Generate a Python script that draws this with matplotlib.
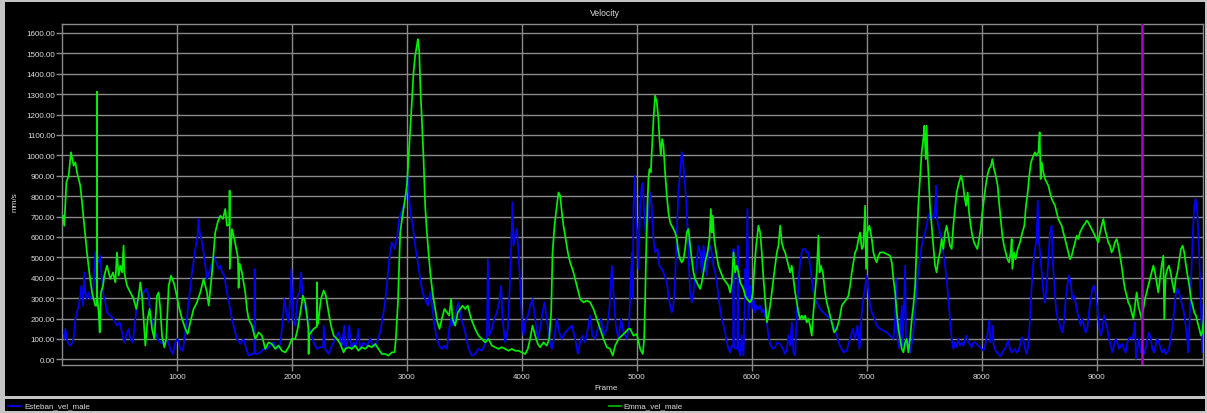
import matplotlib
matplotlib.use('Agg')
import matplotlib.pyplot as plt
from matplotlib.patches import Rectangle
from matplotlib.lines import Line2D
from matplotlib.ticker import FormatStrFormatter

# ---------------- data (frame, mm/s) ----------------
esteban_pts = [
    (9,116),(20,100),(29,149),(43,92),(58,75),(78,67),(96,92),(107,132),(116,198),(130,230),
    (145,263),(159,312),(168,361),(183,263),(194,426),(203,328),(217,296),(232,328),(246,296),(261,312),
    (275,361),(290,524),(304,491),(319,475),(333,508),(348,377),(362,312),(377,279),(391,230),(420,214),
    (449,198),(478,165),(502,181),(522,132),(542,83),(565,132),(580,149),(594,100),(617,83),(638,198),
    (658,296),(681,312),(710,328),(733,345),(754,312),(768,230),(791,165),(812,132),(832,100),(855,83),
    (884,75),(913,100),(942,51),(965,26),(986,83),(1006,100),(1029,51),(1052,42),(1073,132),(1102,279),
    (1131,426),(1160,541),(1180,606),(1189,688),(1197,622),(1218,573),(1232,524),(1247,459),(1261,394),(1281,426),
    (1305,475),(1319,508),(1342,475),(1363,443),(1377,459),(1392,426),(1412,410),(1435,328),(1458,263),(1478,198),
    (1499,149),(1522,100),(1551,75),(1580,100),(1603,51),(1623,18),(1652,26),(1672,30),(1676,443),(1681,26),
    (1696,26),(1725,34),(1754,51),(1783,51),(1812,67),(1841,83),(1870,51),(1899,75),(1922,198),(1934,296),
    (1951,230),(1971,181),(1986,312),(1995,443),(2009,198),(2029,165),(2050,312),(2067,328),(2079,426),(2096,296),
    (2116,247),(2137,198),(2160,132),(2189,83),(2218,51),(2247,59),(2272,60),(2276,165),(2290,51),(2319,26),
    (2348,67),(2377,100),(2406,132),(2435,67),(2456,165),
    (2464,51),(2487,100),(2498,165),(2516,51),(2536,83),(2556,67),(2579,149),(2594,51),(2623,83),(2652,67),
    (2681,100),(2710,59),(2739,83),(2768,132),(2788,198),(2806,263),(2826,361),(2846,491),(2869,573),(2893,541),
    (2913,590),(2933,688),(2951,720),(2971,753),(2991,786),(3006,900),(3020,786),(3035,704),(3052,655),(3072,557),
    (3095,475),(3116,394),(3136,328),(3159,296),(3182,263),(3203,328),(3223,247),(3240,165),(3261,100),(3281,67),
    (3304,51),(3327,67),(3348,51),(3368,149),(3385,198),(3406,165),(3426,230),(3449,279),(3472,198),(3493,165),
    (3513,116),(3536,51),(3565,18),(3594,26),(3623,51),(3652,42),(3675,67),(3696,100),(3704,491),(3716,116),
    (3739,149),(3762,198),(3783,230),(3803,279),(3820,361),(3832,198),(3855,83),(3878,149),(3898,394),(3919,770),
    (3928,557),(3942,606),(3957,639),(3971,524),(3986,361),(4000,198),(4014,116),(4029,181),(4052,214),(4072,263),
    (4093,296),(4116,198),(4139,100),(4159,149),(4180,230),(4197,279),(4217,198),(4238,100),(4261,51),(4284,116),
    (4304,198),(4325,132),(4348,100),(4377,132),(4406,149),(4435,165),(4464,100),(4487,26),(4507,83),(4528,116),
    (4551,83),(4574,149),(4594,214),(4614,116),(4638,100),(4667,165),(4690,198),(4710,116),(4739,149),(4759,230),
    (4783,459),(4797,328),(4817,165),(4841,100),(4864,198),(4884,132),(4913,100),(4933,165),
    (4945,361),(4958,524),(4965,300),(4971,753),(4983,900),(4994,688),(5006,606),(5014,443),(5029,753),(5043,851),
    (5052,866),(5064,720),(5081,590),(5101,720),(5116,818),(5130,753),(5145,590),(5159,524),(5180,541),(5197,459),
    (5217,443),(5232,426),(5261,377),(5284,279),(5304,230),(5319,263),(5333,394),(5348,622),(5362,818),(5377,917),
    (5391,1015),(5406,949),(5420,851),(5435,720),(5449,524),(5464,328),(5478,279),(5493,328),(5507,394),(5522,491),
    (5536,557),(5551,524),(5565,426),(5580,557),(5594,491),(5609,410),(5623,524),(5638,557),(5652,524),(5667,459),
    (5681,426),(5696,377),(5710,312),(5725,247),(5739,198),(5754,165),(5768,132),(5783,83),(5797,51),(5812,34),
    (5826,67),(5838,60),(5841,541),(5845,60),(5864,51),(5875,60),(5878,557),(5881,60),(5899,18),(5913,116),
    (5928,18),(5945,443),(5951,300),(5962,737),(5971,198),(5986,361),(6000,247),(6015,296),(6029,230),(6044,263),
    (6058,247),(6073,263),(6087,230),(6102,247),(6116,214),(6131,181),(6145,116),(6160,75),(6183,51),(6203,59),
    (6223,83),(6247,75),(6270,51),(6290,26),(6305,51),(6319,116),(6334,67),(6348,181),(6362,34),(6377,18),
    (6392,230),(6406,361),(6420,475),(6435,524),(6449,541),(6464,541),(6478,524),(6493,524),(6507,459),(6522,394),
    (6536,328),(6551,296),(6565,279),(6580,263),(6594,247),(6623,230),(6652,214),(6681,198),(6710,165),(6739,116),
    (6768,67),(6797,34),(6826,42),(6855,100),(6879,149),(6899,100),(6919,165),(6937,51),(6957,230),(6971,296),
    (6986,361),(7000,410),(7015,328),(7029,263),(7044,230),(7058,214),(7087,165),(7116,149),(7145,141),(7174,132),
    (7203,116),(7232,100),(7247,198),(7255,394),(7267,100),(7284,51),(7305,263),(7313,67),(7334,459),(7342,67),
    (7362,100),(7377,34),(7400,100),(7421,230),
    (7434,361),(7449,426),(7463,491),(7478,557),(7492,590),(7508,622),(7521,655),(7536,704),(7550,720),(7565,704),
    (7579,688),(7594,737),(7603,851),(7611,688),(7623,655),(7637,622),(7652,590),(7666,524),(7681,459),(7695,394),
    (7710,296),(7724,198),(7739,100),(7753,51),(7768,83),(7782,59),(7797,100),(7811,67),(7826,83),(7840,67),
    (7855,100),(7869,116),(7884,83),(7898,75),(7913,59),(7927,83),(7942,83),(7956,75),(7971,67),(7985,59),
    (8000,51),(8014,42),(8029,67),(8043,100),(8058,149),(8066,190),(8075,83),(8087,100),(8095,165),(8104,67),
    (8116,51),(8130,34),(8145,26),(8159,15),(8174,26),(8188,42),(8203,51),(8217,75),(8232,92),(8246,51),
    (8261,34),(8275,42),(8290,51),(8304,34),(8319,42),(8333,67),(8348,108),(8362,100),(8377,51),(8391,26),
    (8406,67),(8420,198),(8435,361),(8449,475),(8464,541),(8478,590),(8487,778),(8496,590),(8507,524),(8522,426),
    (8536,328),(8551,279),(8565,361),(8580,491),(8594,622),(8609,655),(8617,491),(8632,361),(8646,247),(8661,198),
    (8675,181),(8690,149),(8704,132),(8719,198),(8730,296),(8745,361),(8759,410),(8774,377),(8788,296),(8803,312),
    (8817,279),(8832,230),(8846,198),(8861,165),(8875,198),(8890,165),(8904,132),(8919,149),(8933,230),(8948,296),
    (8962,345),(8977,361),(8991,328),(9006,247),(9020,165),(9035,116),(9049,149),(9064,214),(9078,181),(9093,149),
    (9107,100),(9122,67),(9136,34),(9151,67),(9165,100),(9180,83),(9194,51),(9209,67),(9223,75),(9238,51),
    (9252,34),(9267,83),(9281,100),(9296,108),(9310,100),(9325,132),(9333,181),(9342,2),(9357,67),(9368,100),
    (9383,34),(9397,51),(9412,26),(9426,51),(9441,100),(9455,132),(9470,100),(9484,51),(9499,34),(9513,67),
    (9528,100),(9542,83),(9557,51),(9571,34),(9586,51),(9600,26),(9615,34),(9629,51),(9643,100),(9658,149),
    (9673,230),(9687,312),(9702,345),(9716,328),(9731,296),(9745,263),(9759,230),(9774,165),(9788,100),(9797,34),
    (9806,165),(9820,361),(9835,606),(9849,753),(9861,786),(9875,720),(9890,557),(9904,296),(9919,34),(9928,263),
]

emma_pts = [
    (9,704),(20,655),(38,868),(58,900),(78,1015),(101,949),(116,966),(130,917),(145,884),(159,851),
    (174,770),(194,655),(217,524),(241,410),(261,328),(275,296),(290,263),(302,263),(304,1312),(306,312),
    (319,230),(328,132),(339,328),(357,361),(368,410),(391,459),(406,426),(420,394),(444,426),(464,377),
    (478,524),(493,410),(507,459),(522,426),(536,557),(542,426),(565,361),(594,328),(623,296),(646,247),
    (667,312),(681,377),(696,312),(710,198),(725,67),(745,198),(762,247),(783,149),(803,100),(826,312),
    (841,328),(855,247),(870,116),(890,59),(907,100),(928,361),(948,410),(971,377),(986,345),(1015,263),
    (1044,198),(1073,149),(1093,124),(1116,181),(1145,247),(1174,279),(1203,328),(1232,394),(1261,328),(1276,263),
    (1305,426),(1333,622),(1354,671),(1377,704),(1400,688),(1420,737),(1435,655),(1456,660),(1458,827),(1460,443),
    (1478,639),(1499,590),(1522,524),(1530,500),(1536,350),(1545,470),(1565,426),(1594,328),(1609,247),(1623,198),
    (1652,165),(1681,100),(1710,132),(1739,116),(1768,51),(1797,83),(1826,75),(1855,51),(1884,67),(1913,42),
    (1942,34),(1971,59),(2000,100),(2029,100),(2050,149),(2073,230),(2096,312),(2116,279),(2131,214),(2143,150),
    (2145,26),(2150,120),(2166,132),(2189,149),(2216,160),(2218,377),(2222,170),(2232,198),(2252,296),(2276,337),
    (2296,312),(2319,230),(2340,165),(2363,116),(2392,100),(2421,75),(2450,34),
    (2464,51),(2492,59),(2521,51),(2550,67),(2579,42),(2608,59),(2637,51),(2666,67),(2695,59),(2724,75),
    (2753,51),(2782,26),(2811,26),(2840,18),(2869,34),(2893,34),(2904,100),(2922,279),(2942,622),(2962,704),
    (2980,770),(3000,851),(3014,982),(3029,1129),(3043,1260),(3058,1407),(3072,1489),(3087,1538),(3095,1570),(3107,1513),
    (3119,1308),(3130,1178),(3145,982),(3159,753),(3174,622),(3188,524),(3203,426),(3223,328),(3246,247),(3266,181),
    (3284,149),(3304,198),(3327,247),(3348,230),(3368,214),(3385,296),(3397,198),(3420,165),(3443,230),(3464,247),
    (3484,263),(3507,247),(3530,263),(3551,214),(3571,181),(3594,149),(3623,116),(3652,100),(3681,83),(3710,100),
    (3739,67),(3768,59),(3797,51),(3826,59),(3855,51),(3884,42),(3913,51),(3942,42),(3971,42),(4000,34),
    (4029,26),(4052,51),(4072,100),(4093,165),(4116,116),(4139,75),(4159,59),(4188,83),(4217,67),(4238,100),
    (4255,230),(4267,524),(4284,655),(4304,753),(4319,818),(4333,802),(4348,720),(4362,655),(4377,606),(4400,524),
    (4420,475),(4449,426),(4478,361),(4507,296),(4536,279),(4565,288),(4594,279),(4623,247),(4652,198),(4681,149),
    (4710,100),(4739,59),(4768,51),(4791,18),(4812,67),(4841,100),(4870,116),(4899,132),(4928,149),
    (4942,149),(4971,116),(5000,124),(5029,51),(5052,26),(5064,100),(5072,279),(5081,524),(5093,770),(5101,884),
    (5110,933),(5122,917),(5130,1015),(5145,1178),(5159,1293),(5174,1260),(5188,1178),(5197,1080),(5209,998),(5220,1080),
    (5232,1047),(5246,917),(5261,802),(5275,720),(5290,671),(5304,655),(5319,639),(5333,622),(5348,590),(5362,524),
    (5377,491),(5391,475),(5406,491),(5420,541),(5435,622),(5449,639),(5464,557),(5478,491),(5493,426),(5507,394),
    (5522,377),(5536,361),(5551,345),(5565,377),(5580,426),(5594,475),(5615,524),(5632,590),(5644,737),(5652,622),
    (5661,704),(5673,590),(5690,524),(5710,459),(5731,426),(5754,394),(5777,377),(5797,361),(5812,328),(5826,377),
    (5841,524),(5855,426),(5870,459),(5884,426),(5899,377),(5913,361),(5928,345),(5942,312),(5957,296),(5971,288),
    (5986,279),(6000,296),(6009,328),(6020,426),(6038,557),(6058,655),(6073,622),(6087,524),(6102,394),(6116,296),
    (6131,181),(6145,214),(6160,263),(6174,328),(6189,394),(6203,459),(6218,524),(6232,557),(6247,655),(6261,573),
    (6276,541),(6290,524),(6305,491),(6319,459),(6334,426),(6348,459),(6362,394),(6377,328),(6392,279),(6406,230),
    (6420,198),(6435,214),(6449,198),(6464,214),(6478,181),(6493,198),(6507,165),(6522,116),(6536,230),(6551,328),
    (6565,426),(6580,606),(6589,426),(6600,459),(6618,426),(6638,328),(6652,279),(6667,247),(6681,214),(6696,181),
    (6716,132),(6739,149),(6763,198),(6783,263),(6803,279),(6826,296),(6841,312),(6855,361),(6870,426),(6884,475),
    (6899,524),(6913,541),(6928,590),(6942,622),(6957,541),(6971,557),(6986,753),(6994,443),(7006,622),(7023,655),
    (7044,590),(7058,524),(7073,491),(7087,475),(7102,508),(7116,524),(7145,524),(7174,516),(7203,508),(7218,475),
    (7232,394),(7247,328),(7261,230),(7276,149),(7290,100),(7305,51),(7319,34),(7334,83),(7348,100),(7362,34),
    (7377,100),(7392,198),(7406,263),(7421,361),
    (7434,557),(7449,753),(7463,884),(7478,1015),(7492,1080),(7501,1145),(7513,982),(7521,1145),(7530,982),(7542,851),
    (7550,753),(7565,655),(7579,557),(7594,459),(7608,426),(7623,491),(7637,524),(7652,590),(7666,541),(7681,622),
    (7695,655),(7710,606),(7724,557),(7739,541),(7753,655),(7768,737),(7782,818),(7803,868),(7820,900),(7835,868),
    (7849,802),(7864,753),(7878,818),(7890,720),(7904,655),(7919,606),(7933,573),(7948,557),(7962,541),(7977,590),
    (7991,639),(8006,720),(8020,786),(8035,851),(8049,900),(8064,933),(8081,949),(8093,982),(8107,933),(8122,900),
    (8139,851),(8151,770),(8165,688),(8180,606),(8194,557),(8209,524),(8223,491),(8238,475),(8252,524),(8261,590),
    (8267,443),(8281,524),(8295,491),(8313,541),(8333,573),(8353,622),(8371,655),(8385,753),(8400,818),(8414,900),
    (8429,966),(8449,998),(8464,1015),(8478,998),(8493,1015),(8504,1113),(8513,884),(8522,966),(8536,917),(8551,884),
    (8565,868),(8580,851),(8594,818),(8609,786),(8623,770),(8638,753),(8652,720),(8667,688),(8681,671),(8696,655),
    (8710,622),(8725,590),(8739,557),(8754,524),(8768,491),(8783,508),(8797,541),(8812,573),(8826,606),(8841,590),
    (8855,622),(8870,639),(8884,655),(8898,664),(8913,680),(8927,671),(8942,655),(8956,639),(8971,622),(8985,606),
    (9000,590),(9014,573),(9029,622),(9043,655),(9058,688),(9072,639),(9087,606),(9101,573),(9116,557),(9130,524),
    (9145,541),(9159,573),(9174,590),(9188,557),(9203,508),(9217,459),(9232,394),(9246,345),(9261,312),(9275,279),
    (9290,263),(9304,230),(9319,198),(9333,263),(9348,328),(9362,263),(9377,230),(9391,198),(9406,247),(9420,296),
    (9435,328),(9449,361),(9464,394),(9478,426),(9493,459),(9507,426),(9522,377),(9536,328),(9551,394),(9565,459),
    (9580,508),(9588,198),(9600,410),(9615,443),(9629,459),(9643,426),(9658,377),(9675,328),(9687,394),(9702,426),
    (9719,491),(9733,541),(9748,557),(9762,524),(9777,459),(9791,410),(9806,361),(9820,296),(9835,263),(9849,230),
    (9864,214),(9878,181),(9893,149),(9907,116),(9919,132),(9931,198),
]

series_names = ["Esteban_vel_male", "Emma_vel_male"]
y_ticks = list(range(0, 1700, 100))
x_ticks = list(range(1000, 10000, 1000))
marker_frame = 9394
title = "Velocity"
x_label = "Frame"
y_label = "mm/s"

# ---------------- figure ----------------
plt.rcParams['font.family'] = ['Liberation Sans', 'DejaVu Sans']
W, H = 1207, 414
fig = plt.figure(figsize=(W / 100, H / 100), dpi=100, facecolor='#c4c4c4')


def fx(px):
    return px / W


def fy(py):
    return 1 - py / H


fig.patches.append(Rectangle((fx(5), fy(397)), (1205 - 5) / W, (397 - 3) / H,
                             transform=fig.transFigure, facecolor='black',
                             edgecolor='none', zorder=-10))
fig.patches.append(Rectangle((fx(5), fy(412)), (1205 - 5) / W, (412 - 399.5) / H,
                             transform=fig.transFigure, facecolor='black',
                             edgecolor='none', zorder=-10))

ax = fig.add_axes([fx(62), fy(366), (1203 - 62) / W, (366 - 25) / H])
ax.set_zorder(1)
ax.set_facecolor('black')

grid_c = '#8a8a8a'
text_c = '#dcdcdc'

ax.set_xlim(0, 9925)
ax.set_ylim(-28, 1644)
ax.set_yticks(y_ticks)
ax.set_xticks(x_ticks)
ax.yaxis.set_major_formatter(FormatStrFormatter('%.2f'))
ax.grid(True, color=grid_c, lw=1.0, zorder=0)
ax.set_axisbelow(True)
for s in ax.spines.values():
    s.set_color(grid_c)
    s.set_linewidth(1.0)
ax.tick_params(axis='both', colors=grid_c, labelcolor=text_c, labelsize=5.8,
               length=4, width=1, direction='out')
ax.tick_params(axis='y', pad=1)
ax.tick_params(axis='x', pad=2)

ef, ev = zip(*esteban_pts)
mf, mv = zip(*emma_pts)
ax.plot(ef, ev, color='#0000ff', lw=1.25, zorder=2)
ax.plot(mf, mv, color='#00f000', lw=1.25, zorder=3)
ax.axvline(marker_frame, color='#b000c8', lw=1.8, zorder=4)

fig.text(fx(605), fy(13), title, ha='center', va='center', fontsize=6.2, color=text_c)
fig.text(fx(606), fy(389), x_label, ha='center', va='center', fontsize=5.9, color=text_c)
fig.text(fx(15), fy(202), y_label, ha='center', va='center', rotation=90,
         fontsize=5.9, color=text_c)

# legend row
fig.add_artist(Line2D([fx(8), fx(21)], [fy(406.5)] * 2, color='#0000ff', lw=1.2,
                      transform=fig.transFigure))
fig.text(fx(24), fy(406.5), series_names[0], ha='left', va='center', fontsize=5.8, color=text_c)
fig.add_artist(Line2D([fx(609), fx(621)], [fy(406.5)] * 2, color='#00c000', lw=1.2,
                      transform=fig.transFigure))
fig.text(fx(623), fy(406.5), series_names[1], ha='left', va='center', fontsize=5.8, color=text_c)

fig.savefig('out.png', dpi=100, facecolor=fig.get_facecolor())
